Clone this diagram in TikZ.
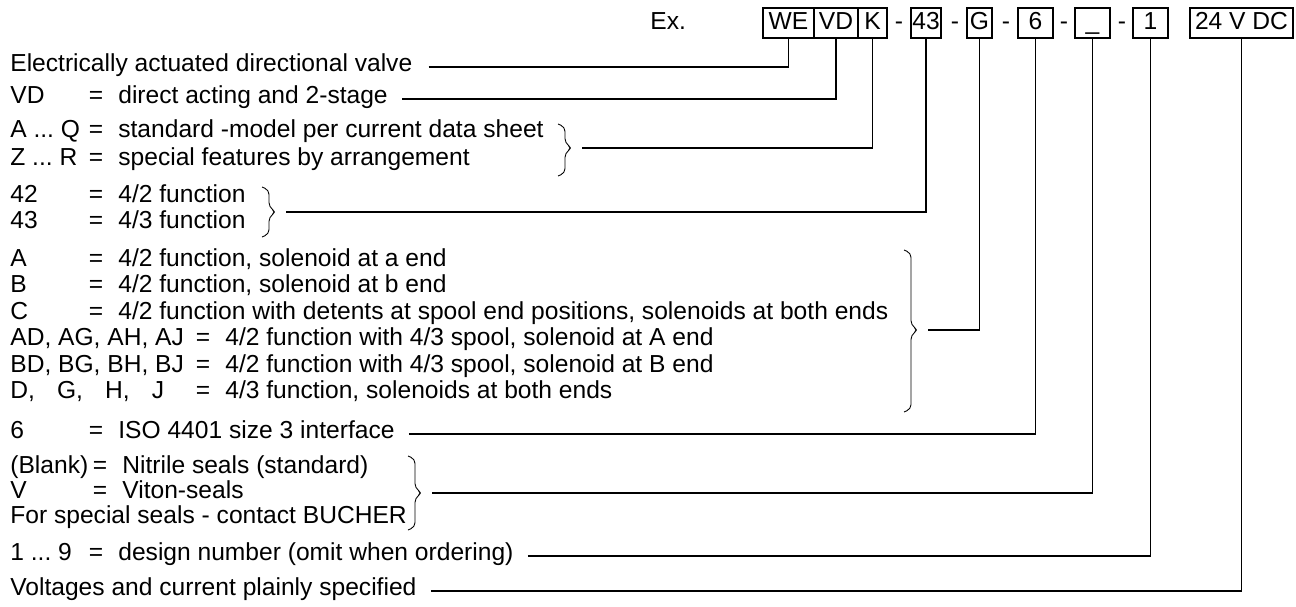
\documentclass[tikz,border=0pt]{standalone}
\usepackage{fontspec}
\setmainfont{Liberation Sans}
\usetikzlibrary{calc}

% 範囲の点（foreach の ... と区別する）
\newcommand{\rngdots}{...}
% 括弧（右向き）: x, 上端, 先端, 下端, 先端の名前
\newcommand{\bracepath}[5]{%
  \draw[brc] (#1,#2) -- (#1+7,#2+3) -- (#1+7,#3-5) -- (#1+14,#3)
    -- (#1+7,#3+5) -- (#1+7,#4-3) -- (#1,#4);
  \coordinate (#5) at (#1+14,#3);}

\begin{document}
\begin{tikzpicture}[x=0.02cm, y=-0.02cm,
  txt/.style={anchor=west, inner sep=0pt, text height=0.72em, text depth=0pt,
    font=\fontsize{14}{16}\selectfont},
  eqs/.style={txt, anchor=center},
  cell/.style={draw, line width=0.6pt, inner sep=0pt, minimum height=0.6cm,
    text height=0.72em, text depth=0pt, font=\fontsize{14}{16}\selectfont},
  brc/.style={line width=0.5pt, rounded corners=2.5pt},
  lead/.style={line width=0.6pt}]
  \useasboundingbox (0,0) rectangle (1296,606);

  % 型式の枠
  \node[txt] (ex) at (650,23) {Ex.};
  \node[cell, minimum width=1.02cm] (we) at (788.5,23) {WE};
  \node[cell, minimum width=0.88cm] (vd) at (836,23) {VD};
  \node[cell, minimum width=0.58cm] (k) at (872.5,23) {K};
  \node[eqs] (m1) at (899,23) {-};
  \node[cell, minimum width=0.6cm] (fn) at (926,23) {43};
  \node[eqs] (m2) at (955,23) {-};
  \node[cell, minimum width=0.5cm] (g) at (979.5,23) {G};
  \node[eqs] (m3) at (1006,23) {-};
  \node[cell, minimum width=0.7cm] (sz) at (1035.5,23) {6};
  \node[eqs] (m4) at (1064,23) {-};
  \node[cell, minimum width=0.7cm] (sl) at (1092.5,23) {\_};
  \node[eqs] (m5) at (1122,23) {-};
  \node[cell, minimum width=0.7cm] (dn) at (1150.5,23) {1};
  \node[cell, minimum width=2.06cm] (vo) at (1241.5,23) {24 V DC};

  % 説明の行
  \node[txt] (de) at (10,65) {Electrically actuated directional valve};
  \foreach \n/\y/\k/\ex/\d in {
      vd/97/VD/96/direct acting and 2-stage,
      aq/131/{A \rngdots\ Q}/96/standard -model per current data sheet,
      zr/159/{Z \rngdots\ R}/96/special features by arrangement,
      fa/196/42/96/{4/2 function},
      fb/222/43/96/{4/3 function},
      a/260/A/96/{4/2 function, solenoid at a end},
      b/286/B/96/{4/2 function, solenoid at b end},
      c/313/C/96/{4/2 function with detents at spool end positions, solenoids at both ends},
      ad/339/{AD, AG, AH, AJ}/203/{4/2 function with 4/3 spool, solenoid at A end},
      bd/366/{BD, BG, BH, BJ}/203/{4/2 function with 4/3 spool, solenoid at B end},
      dj/392/{D,\hspace{0.9em}G,\hspace{0.9em}H,\hspace{0.9em}J}/203/{4/3 function, solenoids at both ends},
      six/432/6/96/ISO 4401 size 3 interface,
      bl/467/(Blank)/100/Nitrile seals (standard),
      v/492/V/100/Viton-seals,
      nr/554/{1 \rngdots\ 9}/96/design number (omit when ordering)} {
    \node[txt] (k\n) at (10,\y) {\k};
    \node[eqs] (e\n) at (\ex,\y) {=};
    \node[txt] (d\n) at (\ex+22,\y) {\d};
  }
  \node[txt] (dsp) at (10,517) {For special seals - contact\ BUCHER};
  \node[txt] (dvo) at (10,589) {Voltages and current plainly specified};

  % 括弧
  \bracepath{558}{124}{148}{176}{tk}
  \bracepath{262}{187}{212}{237}{tf}
  \bracepath{904}{250}{330}{412}{tg}
  \bracepath{408}{456}{493}{530}{ts}

  % 引出し線
  \draw[lead] ($(de.east)+(16,2)$) -| (we.south);
  \draw[lead] ($(dvd.east)+(14,2)$) -| (vd.south);
  \draw[lead] ($(tk)+(10,0)$) -| (k.south);
  \draw[lead] ($(tf)+(10,0)$) -| (fn.south);
  \draw[lead] ($(tg)+(10,0)$) -| (g.south);
  \draw[lead] ($(dsix.east)+(14,2)$) -| (sz.south);
  \draw[lead] ($(ts)+(10,0)$) -| (sl.south);
  \draw[lead] ($(dnr.east)+(14,2)$) -| (dn.south);
  \draw[lead] ($(dvo.east)+(14,2)$) -| (vo.south);
\end{tikzpicture}
\end{document}
